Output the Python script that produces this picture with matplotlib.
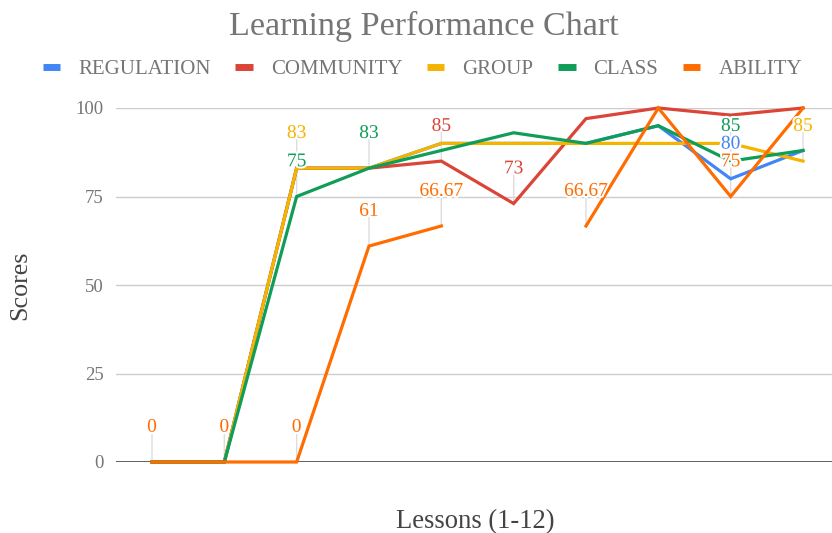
import matplotlib
matplotlib.use("Agg")
import matplotlib.pyplot as plt
import matplotlib.patheffects as pe
from matplotlib.lines import Line2D
import numpy as np

# ---------------- data ----------------
lessons = [1, 2, 3, 4, 5, 6, 7, 8, 9, 10]
series_names = ["REGULATION", "COMMUNITY", "GROUP", "CLASS", "ABILITY"]
regulation = [0, 0, 83, 83, 90, 90, 90, 95, 80, 88]
community = [0, 0, 83, 83, 85, 73, 97, 100, 98, 100]
group = [0, 0, 83, 83, 90, 90, 90, 90, 90, 85]
class_ = [0, 0, 75, 83, 88, 93, 90, 95, 85, 88]
ability = [0, 0, 0, 61, 66.67, None, 66.67, 100, 75, 100]
y_ticks = [0, 25, 50, 75, 100]

# annotated points: (series index, lesson index)
annotated = [
    (4, 0), (4, 1), (4, 2),
    (2, 2), (3, 2),
    (3, 3), (4, 3),
    (1, 4), (4, 4),
    (1, 5),
    (4, 6),
    (3, 8), (0, 8), (4, 8),
    (2, 9),
]

colors = ["#4285F4", "#DB4437", "#F4B400", "#0F9D58", "#FF6D01"]
all_series = [regulation, community, group, class_, ability]

# ---------------- figure ----------------
W, H = 832, 533
fig = plt.figure(figsize=(W / 100, H / 100), dpi=100)
font = ["Liberation Serif", "DejaVu Serif"]
plt.rcParams["font.family"] = font

ax_left, ax_right = 116 / W, 1.0
ax_bottom, ax_top = (H - 462) / H, (H - 108) / H
ax = fig.add_axes([ax_left, ax_bottom, ax_right - ax_left, ax_top - ax_bottom])

x = np.array(lessons, dtype=float)
for name, vals, c in zip(series_names, all_series, colors):
    y = np.array([np.nan if v is None else v for v in vals], dtype=float)
    ax.plot(x, y, color=c, lw=2.3, label=name, clip_on=False, zorder=3,
            solid_joinstyle="miter")

ax.set_xlim(1 - 36 / 72.33, 10 + 29 / 72.33)
ax.set_ylim(0, 100)
ax.set_yticks(y_ticks)
ax.set_yticklabels([str(t) for t in y_ticks])
ax.set_xticks([])
for s in ax.spines.values():
    s.set_visible(False)
ax.yaxis.grid(True, color="#cccccc", lw=1.0)
ax.set_axisbelow(True)
ax.axhline(0, color="#555555", lw=1.3, zorder=2)
ax.tick_params(axis="y", length=0, pad=9, labelsize=13.5, labelcolor="#757575")
for lbl in ax.get_yticklabels():
    lbl.set_fontfamily(font)

# annotations with stems
stroke = [pe.withStroke(linewidth=3, foreground="white")]
for si, li in annotated:
    v = all_series[si][li]
    xv = lessons[li]
    txt = f"{v:g}" if v != 66.67 else "66.67"
    ax.annotate("", xy=(xv, v), xytext=(0, 23), textcoords="offset points",
                xycoords="data",
                arrowprops=dict(arrowstyle="-", color="#dddddd", lw=1.0,
                                shrinkA=0, shrinkB=0), zorder=2)
    ax.annotate(txt, xy=(xv, v), xytext=(0, 25), textcoords="offset points",
                ha="center", va="center", color=colors[si], fontsize=14,
                fontfamily=font, path_effects=stroke, zorder=5,
                annotation_clip=False)

# title
fig.text(424 / W, 1 - 26 / H, "Learning Performance Chart", ha="center",
         va="center", fontsize=24.6, color="#757575", fontfamily=font)

# legend
labels = series_names
lh = [Line2D([0], [0], color=c, lw=5, solid_capstyle="butt") for c in colors]
leg = fig.legend(lh, labels, loc="center", bbox_to_anchor=(422.5 / W, 1 - 69 / H),
                 ncol=5, frameon=False, handlelength=0.82,
                 handletextpad=0.87, columnspacing=1.2,
                 prop={"family": font, "size": 15})
for t in leg.get_texts():
    t.set_color("#757575")

# axis titles
fig.text(20 / W, 1 - 285 / H, "Scores", rotation=90, ha="center", va="center",
         fontsize=18.8, color="#444444", fontfamily=font)
fig.text(475 / W, 1 - 522 / H, "Lessons (1-12)", ha="center", va="center",
         fontsize=19.2, color="#444444", fontfamily=font)

fig.savefig("out.png", dpi=100)
